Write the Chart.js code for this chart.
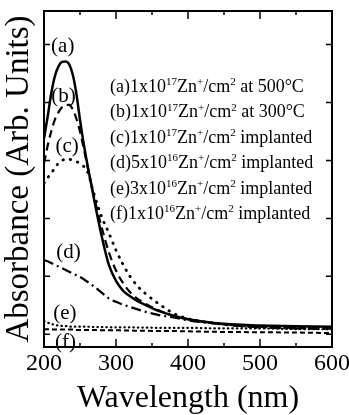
<!DOCTYPE html>
<html>
<head>
<meta charset="utf-8">
<script src="https://cdn.jsdelivr.net/npm/chart.js@4/dist/chart.umd.min.js"></script>
<style>
  html, body { margin: 0; padding: 0; background: #fff; }
  #wrap { width: 349px; height: 415px; }
</style>
</head>
<body>
<div id="wrap"><canvas id="absChart"></canvas></div>
<script>
// wavelength grid (nm) and absorbance (arb. units)
const wavelengths = [200, 205, 210, 215, 220, 225, 230, 235, 240, 245, 250, 255, 260, 270, 280, 290, 300, 310, 320, 330, 340, 360, 380, 400, 450, 500, 550, 600];

const absA = [3.38, 3.75, 4.15, 4.45, 4.62, 4.70, 4.71, 4.66, 4.48, 4.15, 3.70, 3.30, 2.95, 2.30, 1.70, 1.20, 0.92, 0.75, 0.65, 0.57, 0.51, 0.40, 0.32, 0.26, 0.18, 0.15, 0.14, 0.13];
const absB = [2.95, 3.25, 3.50, 3.70, 3.83, 3.92, 3.96, 3.96, 3.88, 3.72, 3.50, 3.22, 2.92, 2.35, 1.85, 1.42, 1.10, 0.88, 0.72, 0.61, 0.53, 0.41, 0.32, 0.26, 0.17, 0.13, 0.11, 0.10];
const absC = [2.61, 2.70, 2.78, 2.87, 2.95, 3.00, 3.02, 3.02, 3.00, 2.98, 2.95, 2.90, 2.82, 2.40, 2.03, 1.75, 1.45, 1.20, 0.99, 0.83, 0.71, 0.52, 0.36, 0.27, 0.17, 0.12, 0.11, 0.10];
const absD = [1.28, 1.26, 1.23, 1.20, 1.17, 1.14, 1.11, 1.08, 1.05, 1.02, 0.99, 0.95, 0.91, 0.82, 0.72, 0.62, 0.56, 0.51, 0.47, 0.43, 0.39, 0.33, 0.29, 0.24, 0.17, 0.12, 0.10, 0.09];
const absE = [0.22, 0.20, 0.18, 0.16, 0.15, 0.145, 0.14, 0.135, 0.13, 0.13, 0.13, 0.13, 0.13, 0.125, 0.125, 0.12, 0.12, 0.12, 0.12, 0.115, 0.115, 0.11, 0.11, 0.11, 0.10, 0.10, 0.09, 0.085];
const absF = [0.085, 0.085, 0.085, 0.08, 0.08, 0.08, 0.08, 0.08, 0.08, 0.075, 0.075, 0.075, 0.075, 0.075, 0.07, 0.07, 0.07, 0.065, 0.065, 0.06, 0.06, 0.055, 0.055, 0.05, 0.04, 0.035, 0.03, 0.02];

const seriesLabels = [
  '(a)1x10¹⁷Zn⁺/cm² at 500°C',
  '(b)1x10¹⁷Zn⁺/cm² at 300°C',
  '(c)1x10¹⁷Zn⁺/cm² implanted',
  '(d)5x10¹⁶Zn⁺/cm² implanted',
  '(e)3x10¹⁶Zn⁺/cm² implanted',
  '(f)1x10¹⁶Zn⁺/cm² implanted'
];

// curve tags next to the left axis: [text, wavelength, absorbance]
const curveTags = [
  ['(a)', 226, 4.97],
  ['(b)', 227, 4.11],
  ['(c)', 232, 3.24],
  ['(d)', 234, 1.42],
  ['(e)', 229, 0.36],
  ['(f)', 230, -0.15]
];

const xTicks = [200, 300, 400, 500, 600];

const SERIF = '"Liberation Serif", "Times New Roman", serif';
const toPts = vals => wavelengths.map((w, i) => ({ x: w, y: vals[i] }));

const supMap = { '¹': '1', '⁷': '7', '⁶': '6', '⁺': '+', '²': '2' };

function drawRich(ctx, str, x, y, size) {
  let cx = x;
  for (const ch of str) {
    if (supMap[ch]) {
      ctx.font = Math.round(size * 0.6) + 'px ' + SERIF;
      ctx.fillText(supMap[ch], cx, y - size * 0.38);
      cx += ctx.measureText(supMap[ch]).width;
    } else {
      ctx.font = size + 'px ' + SERIF;
      ctx.fillText(ch, cx, y);
      cx += ctx.measureText(ch).width;
    }
  }
}

const decorations = {
  id: 'decorations',
  afterDatasetsDraw(chart) {
    const { ctx, chartArea: a, scales: { x, y } } = chart;
    ctx.save();
    ctx.strokeStyle = '#000';
    ctx.fillStyle = '#000';
    ctx.lineWidth = 2;
    ctx.strokeRect(a.left, a.top, a.right - a.left, a.bottom - a.top);

    // inward ticks on all four sides
    ctx.lineWidth = 1.5;
    ctx.beginPath();
    for (let v = 200; v <= 600; v += 50) {
      const px = x.getPixelForValue(v);
      const len = v % 100 ? 4 : 8;
      ctx.moveTo(px, a.bottom); ctx.lineTo(px, a.bottom - len);
      ctx.moveTo(px, a.top); ctx.lineTo(px, a.top + len);
    }
    for (let v = 0; v <= 5; v++) {
      const py = y.getPixelForValue(v);
      ctx.moveTo(a.left, py); ctx.lineTo(a.left + 6, py);
      ctx.moveTo(a.right, py); ctx.lineTo(a.right - 6, py);
    }
    ctx.stroke();

    // curve tags
    ctx.font = '21px ' + SERIF;
    ctx.textAlign = 'center';
    ctx.textBaseline = 'middle';
    curveTags.forEach(([t, w, v]) => {
      ctx.fillText(t, x.getPixelForValue(w), y.getPixelForValue(v));
    });

    // legend text
    ctx.textAlign = 'left';
    ctx.textBaseline = 'alphabetic';
    seriesLabels.forEach((lab, i) => {
      drawRich(ctx, lab, 110, 92 + i * 25.4, 18);
    });
    ctx.restore();
  }
};

new Chart(document.getElementById('absChart'), {
  type: 'line',
  data: {
    datasets: [
      { label: seriesLabels[0], data: toPts(absA), borderColor: '#000', borderWidth: 2.5 },
      { label: seriesLabels[1], data: toPts(absB), borderColor: '#000', borderWidth: 2.2, borderDash: [8, 5] },
      { label: seriesLabels[2], data: toPts(absC), borderColor: '#000', borderWidth: 2.8, borderDash: [0.5, 7], borderCapStyle: 'round' },
      { label: seriesLabels[3], data: toPts(absD), borderColor: '#000', borderWidth: 2.2, borderDash: [10, 4, 2, 4] },
      { label: seriesLabels[4], data: toPts(absE), borderColor: '#000', borderWidth: 2.2, borderDash: [0.5, 4], borderCapStyle: 'round' },
      { label: seriesLabels[5], data: toPts(absF), borderColor: '#000', borderWidth: 2, borderDash: [5, 3] }
    ]
  },
  options: {
    responsive: true,
    maintainAspectRatio: false,
    animation: false,
    layout: { padding: { left: 3, right: 0, top: 11, bottom: 0 } },
    elements: { point: { radius: 0 }, line: { tension: 0.4, cubicInterpolationMode: 'monotone' } },
    plugins: { legend: { display: false }, tooltip: { enabled: false } },
    scales: {
      x: {
        type: 'linear',
        min: 200,
        max: 600,
        afterBuildTicks: s => { s.ticks = xTicks.map(v => ({ value: v })); },
        afterFit: s => { s.paddingRight = 17; },
        grid: { display: false, drawTicks: false },
        border: { display: false },
        ticks: { color: '#000', padding: 5, maxRotation: 0, font: { family: SERIF, size: 24, lineHeight: 1 } },
        title: { display: true, text: 'Wavelength (nm)', color: '#000', padding: { top: 2, bottom: 0 }, font: { family: SERIF, size: 32, lineHeight: 1 } }
      },
      y: {
        min: -0.22,
        max: 5.58,
        grid: { display: false, drawTicks: false },
        border: { display: false },
        ticks: { display: false },
        title: { display: true, text: 'Absorbance (Arb. Units)', color: '#000', padding: { top: 0, bottom: 8 }, font: { family: SERIF, size: 33, lineHeight: 1 } }
      }
    }
  },
  plugins: [decorations]
});
</script>
</body>
</html>
